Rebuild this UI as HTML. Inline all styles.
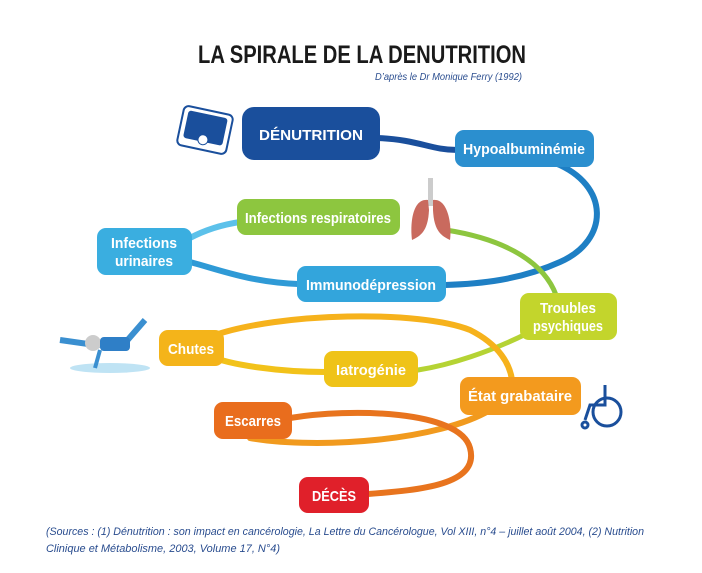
<!DOCTYPE html>
<html><head><meta charset="utf-8"><style>
html,body{margin:0;padding:0;background:#fff;width:702px;height:573px;overflow:hidden}
svg{display:block}
.t{font-family:"Liberation Sans",sans-serif;font-weight:bold;fill:#fff;font-size:15px}
</style></head><body>
<svg width="702" height="573" viewBox="0 0 702 573" xmlns="http://www.w3.org/2000/svg">
<rect width="702" height="573" fill="#fff"/>
<text x="198" y="63" font-family="Liberation Sans,sans-serif" font-weight="bold" font-size="25" fill="#1a1a1a" textLength="328" lengthAdjust="spacingAndGlyphs">LA SPIRALE DE LA DENUTRITION</text>
<text x="522" y="80" text-anchor="end" font-family="Liberation Sans,sans-serif" font-style="italic" font-size="10" fill="#2a4d8f" textLength="147" lengthAdjust="spacingAndGlyphs">D’après le Dr Monique Ferry (1992)</text>

<g fill="none" stroke-linecap="round">
<path d="M378 138 C420 140 430 150 458 150" stroke="#1a4f9c" stroke-width="6"/>
<path d="M555 163 C610 185 610 240 560 262 C520 280 480 284 445 285" stroke="#1e7fc4" stroke-width="6"/>
<path d="M298 284 C250 282 220 270 190 262" stroke="#2f9ad6" stroke-width="6"/>
<path d="M190 238 C205 230 220 225 240 222" stroke="#5cc1ea" stroke-width="6"/>
<path d="M446 230 C510 240 545 265 556 295" stroke="#8dc63f" stroke-width="5"/>
<path d="M528 333 C490 352 450 365 418 370" stroke="#b5d334" stroke-width="5"/>
<path d="M325 372 C280 372 230 365 210 356" stroke="#f2c21a" stroke-width="6"/>
<path d="M212 336 C280 312 420 310 470 330 C500 345 510 365 512 380" stroke="#f6b21c" stroke-width="6"/>
<path d="M490 410 C440 440 320 450 250 438" stroke="#f19a1e" stroke-width="6"/>
<path d="M290 418 C350 408 460 410 470 448 C480 485 420 490 368 494" stroke="#e8741e" stroke-width="6"/>
</g>

<rect x="242" y="107" width="138" height="53" rx="12" fill="#1a4f9c"/>
<text class="t" x="311" y="140" text-anchor="middle" font-size="16" textLength="104" lengthAdjust="spacingAndGlyphs">DÉNUTRITION</text>
<rect x="455" y="130" width="139" height="37" rx="9" fill="#2b8fcf"/>
<text class="t" x="524" y="154" text-anchor="middle" textLength="122" lengthAdjust="spacingAndGlyphs">Hypoalbuminémie</text>
<rect x="237" y="199" width="163" height="36" rx="9" fill="#8dc63f"/>
<text class="t" x="318" y="223" text-anchor="middle" textLength="146" lengthAdjust="spacingAndGlyphs">Infections respiratoires</text>
<rect x="97" y="228" width="95" height="47" rx="9" fill="#3aaee0"/>
<text class="t" x="144" y="248" text-anchor="middle" textLength="66" lengthAdjust="spacingAndGlyphs">Infections</text>
<text class="t" x="144" y="266" text-anchor="middle" textLength="58" lengthAdjust="spacingAndGlyphs">urinaires</text>
<rect x="297" y="266" width="149" height="36" rx="9" fill="#33a5dc"/>
<text class="t" x="371" y="290" text-anchor="middle" textLength="130" lengthAdjust="spacingAndGlyphs">Immunodépression</text>
<rect x="520" y="293" width="97" height="47" rx="9" fill="#c3d52c"/>
<text class="t" x="568" y="313" text-anchor="middle" textLength="56" lengthAdjust="spacingAndGlyphs">Troubles</text>
<text class="t" x="568" y="331" text-anchor="middle" textLength="70" lengthAdjust="spacingAndGlyphs">psychiques</text>
<rect x="159" y="330" width="65" height="36" rx="9" fill="#f4b41a"/>
<text class="t" x="191" y="354" text-anchor="middle" textLength="46" lengthAdjust="spacingAndGlyphs">Chutes</text>
<rect x="324" y="351" width="94" height="36" rx="9" fill="#efc318"/>
<text class="t" x="371" y="375" text-anchor="middle" textLength="70" lengthAdjust="spacingAndGlyphs">Iatrogénie</text>
<rect x="460" y="377" width="121" height="38" rx="9" fill="#f39a1e"/>
<text class="t" x="520" y="401" text-anchor="middle" textLength="104" lengthAdjust="spacingAndGlyphs">État grabataire</text>
<rect x="214" y="402" width="78" height="37" rx="9" fill="#e96d1d"/>
<text class="t" x="253" y="426" text-anchor="middle" textLength="56" lengthAdjust="spacingAndGlyphs">Escarres</text>
<rect x="299" y="477" width="70" height="36" rx="9" fill="#e0202a"/>
<text class="t" x="334" y="501" text-anchor="middle" textLength="44" lengthAdjust="spacingAndGlyphs">DÉCÈS</text>

<!-- scale icon -->
<g transform="rotate(12 205 130)">
<rect x="180" y="110" width="50" height="40" rx="5" fill="#fff" stroke="#1a4f9c" stroke-width="2"/>
<rect x="185" y="114" width="40" height="28" rx="3" fill="#1a4f9c"/>
<circle cx="205" cy="140" r="5" fill="#fff" stroke="#1a4f9c"/>
</g>
<!-- lungs -->
<rect x="428" y="178" width="5" height="28" fill="#ccc"/>
<path d="M428 200 C412 198 410 225 412 240 C420 236 428 232 429 210 Z" fill="#c96a5e"/>
<path d="M433 200 C448 198 452 225 450 240 C442 236 434 232 433 210 Z" fill="#c96a5e"/>
<!-- faller -->
<ellipse cx="110" cy="368" rx="40" ry="5" fill="#bfe3f4"/>
<path d="M60 340 L95 345 L125 343 L145 320" stroke="#3a8fd0" stroke-width="6" fill="none"/>
<circle cx="93" cy="343" r="8" fill="#ccc"/>
<rect x="100" y="337" width="30" height="14" rx="4" fill="#2f7fc7"/>
<path d="M100 350 L95 368" stroke="#3a8fd0" stroke-width="4"/>
<!-- wheelchair -->
<g fill="none" stroke="#1a4f9c" stroke-width="3">
<circle cx="607" cy="412" r="14"/>
<path d="M605 385 L605 405 L590 405 L585 420"/>
<circle cx="585" cy="425" r="3"/>
</g>

<text x="46" y="535" font-family="Liberation Sans,sans-serif" font-style="italic" font-size="11" fill="#2a4d8f" textLength="598" lengthAdjust="spacingAndGlyphs">(Sources : (1) Dénutrition : son impact en cancérologie, La Lettre du Cancérologue, Vol XIII, n°4 – juillet août 2004, (2) Nutrition</text>
<text x="46" y="552" font-family="Liberation Sans,sans-serif" font-style="italic" font-size="11" fill="#2a4d8f" textLength="234" lengthAdjust="spacingAndGlyphs">Clinique et Métabolisme, 2003, Volume 17, N°4)</text>
</svg>
</body></html>
